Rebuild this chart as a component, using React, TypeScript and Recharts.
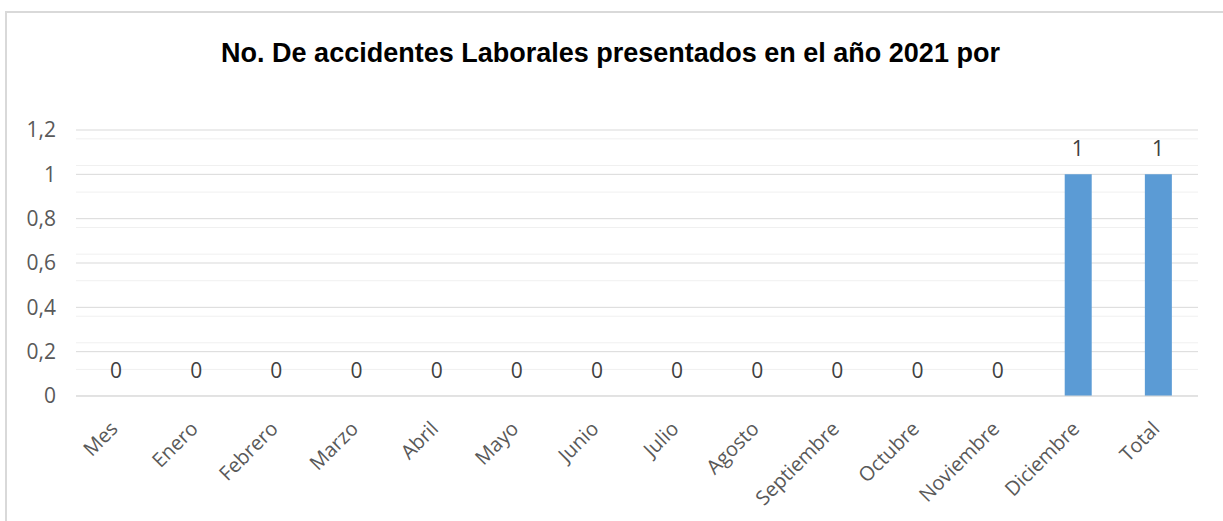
import {
  ComposedChart,
  Bar,
  Line,
  XAxis,
  YAxis,
  CartesianGrid,
  LabelList,
} from "recharts";

// categories and values
const months = [
  "Mes",
  "Enero",
  "Febrero",
  "Marzo",
  "Abril",
  "Mayo",
  "Junio",
  "Julio",
  "Agosto",
  "Septiembre",
  "Octubre",
  "Noviembre",
  "Diciembre",
  "Total",
];
const accidents = [0, 0, 0, 0, 0, 0, 0, 0, 0, 0, 0, 0, 1, 1];
const yTicks = [0, 0.2, 0.4, 0.6, 0.8, 1, 1.2];
const minorLines = [
  0.04, 0.08, 0.12, 0.16, 0.24, 0.28, 0.32, 0.36, 0.44, 0.48, 0.52, 0.56,
  0.64, 0.68, 0.72, 0.76, 0.84, 0.88, 0.92, 0.96, 1.04, 1.08, 1.12, 1.16,
];

const chartData = months.map((mes, i) => ({ mes, valor: accidents[i] }));

const FONT = "'Open Sans', 'Liberation Sans', sans-serif";

const fmt = (v: number) => String(v).replace(".", ",");

function MonthTick(props: any) {
  const { x, y, payload } = props;
  const ax = x + 3;
  const ay = y + 26;
  return (
    <text
      x={ax}
      y={ay}
      transform={`rotate(-45, ${ax}, ${ay})`}
      textAnchor="end"
      fill="#595959"
      fontSize={20}
      fontFamily={FONT}
    >
      {payload.value}
    </text>
  );
}

export default function App() {
  return (
    <div
      style={{
        position: "fixed",
        left: 0,
        top: 0,
        width: 1223,
        height: 521,
        background: "#fff",
        overflow: "hidden",
      }}
    >
      <div
        style={{
          position: "absolute",
          left: 5,
          top: 11,
          width: 1300,
          height: 600,
          borderLeft: "2px solid #d9d9d9",
          borderTop: "2px solid #d9d9d9",
        }}
      />
      <div
        style={{
          position: "absolute",
          left: 0,
          top: 38,
          width: 1221,
          textAlign: "center",
          fontFamily: "'Liberation Sans', Arial, sans-serif",
          fontWeight: "bold",
          fontSize: 27,
          lineHeight: "30px",
          color: "#000",
        }}
      >
        No. De accidentes Laborales presentados en el año 2021 por
      </div>
      <div style={{ position: "absolute", left: 0, top: 0 }}>
        <ComposedChart
          width={1223}
          height={521}
          data={chartData}
          margin={{ top: 130, right: 25, left: 0, bottom: 0 }}
          barSize={27}
        >
          <CartesianGrid
            vertical={false}
            horizontalValues={minorLines}
            stroke="#f0f0f0"
            strokeWidth={1}
          />
          <CartesianGrid
            vertical={false}
            horizontalValues={yTicks}
            stroke="#d9d9d9"
            strokeWidth={1}
          />
          <XAxis
            dataKey="mes"
            height={125}
            interval={0}
            axisLine={{ stroke: "#d9d9d9" }}
            tickLine={false}
            tick={<MonthTick />}
          />
          <YAxis
            width={76}
            domain={[0, 1.2]}
            ticks={yTicks}
            tickFormatter={fmt}
            axisLine={false}
            tickLine={false}
            tickMargin={14}
            tick={{ fill: "#595959", fontSize: 21, fontFamily: FONT }}
          />
          <Bar dataKey="valor" fill="#5b9bd5" isAnimationActive={false} />
          <Line
            dataKey="valor"
            stroke="none"
            dot={false}
            activeDot={false}
            isAnimationActive={false}
          >
            <LabelList
              dataKey="valor"
              position="top"
              offset={18}
              fill="#404040"
              fontSize={21}
              fontFamily={FONT}
            />
          </Line>
        </ComposedChart>
      </div>
    </div>
  );
}
